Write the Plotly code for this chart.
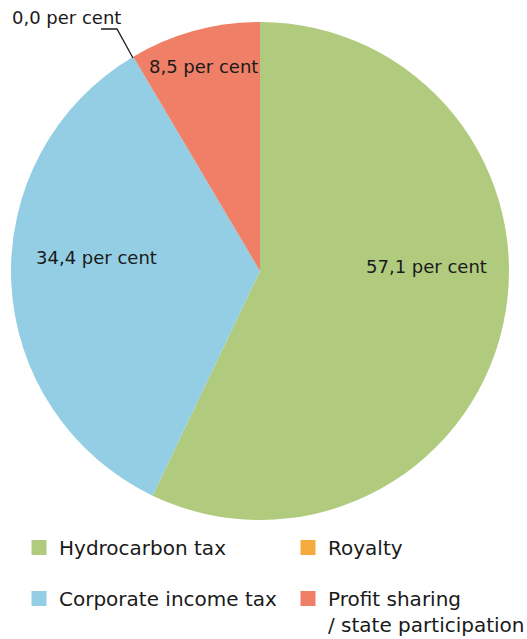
import plotly.graph_objects as go

labels = ["Hydrocarbon tax", "Corporate income tax", "Royalty", "Profit sharing<br>/ state participation"]
values = [57.1, 34.4, 0.0, 8.5]
colors = ["#B0CB7E", "#93CEE4", "#F5AA3E", "#EF7F66"]
legend_order = [0, 2, 1, 3]  # Hydrocarbon, Royalty / Corporate, Profit sharing

def fmt(v):
    return f"{v:.1f}".replace(".", ",") + " per cent"

texts = [fmt(v) for v in values]

W, H = 527, 639
cx, cy, R = 260, 271, 249
FONT = "DejaVu Sans"
TXT = "#1a1a1a"

fig = go.Figure()
fig.add_trace(go.Pie(
    labels=labels, values=values, textinfo="none",
    sort=False, direction="clockwise", rotation=0,
    marker=dict(colors=colors, line=dict(width=0)),
    showlegend=False, hoverinfo="label+percent",
    domain=dict(x=[(cx - R) / W, (cx + R) / W], y=[1 - (cy + R) / H, 1 - (cy - R) / H]),
))

# slice value labels (pixel centres in the picture)
label_pos = [(426, 266), (96, 257), (66, 17), (203, 66)]
for t, (px, py) in zip(texts, label_pos):
    fig.add_annotation(x=px / W, y=1 - py / H, xref="paper", yref="paper",
                       text=t, showarrow=False, xanchor="center", yanchor="middle",
                       font=dict(family=FONT, size=18, color=TXT))

# leader line for the zero-value slice
pts = [(133, 58), (117, 29), (101, 29)]
path = "M " + " L ".join(f"{x / W},{1 - y / H}" for x, y in pts)
fig.add_shape(type="path", path=path, xref="paper", yref="paper",
              line=dict(color=TXT, width=1.3))

# legend entries
leg_pos = [(19, 528), (288, 528), (19, 579), (288, 579)]
for k, idx in enumerate(legend_order):
    name = "legend" if k == 0 else f"legend{k+1}"
    fig.add_trace(go.Scatter(
        x=[None], y=[None], mode="markers", name=labels[idx],
        marker=dict(symbol="square", size=15, color=colors[idx]),
        legend=name, showlegend=True,
    ))

legend_common = dict(font=dict(family=FONT, size=20, color=TXT),
                     bgcolor="rgba(0,0,0,0)", valign="top", itemwidth=30,
                     xanchor="left", yanchor="top")
layout_legends = {}
for k in range(4):
    name = "legend" if k == 0 else f"legend{k+1}"
    px, py = leg_pos[k]
    layout_legends[name] = dict(x=px / W, y=1 - py / H, **legend_common)

fig.update_layout(
    width=W, height=H, margin=dict(l=0, r=0, t=0, b=0, autoexpand=False),
    paper_bgcolor="white", plot_bgcolor="white",
    xaxis=dict(visible=False), yaxis=dict(visible=False),
    **layout_legends,
)
fig.write_html("out.html")
